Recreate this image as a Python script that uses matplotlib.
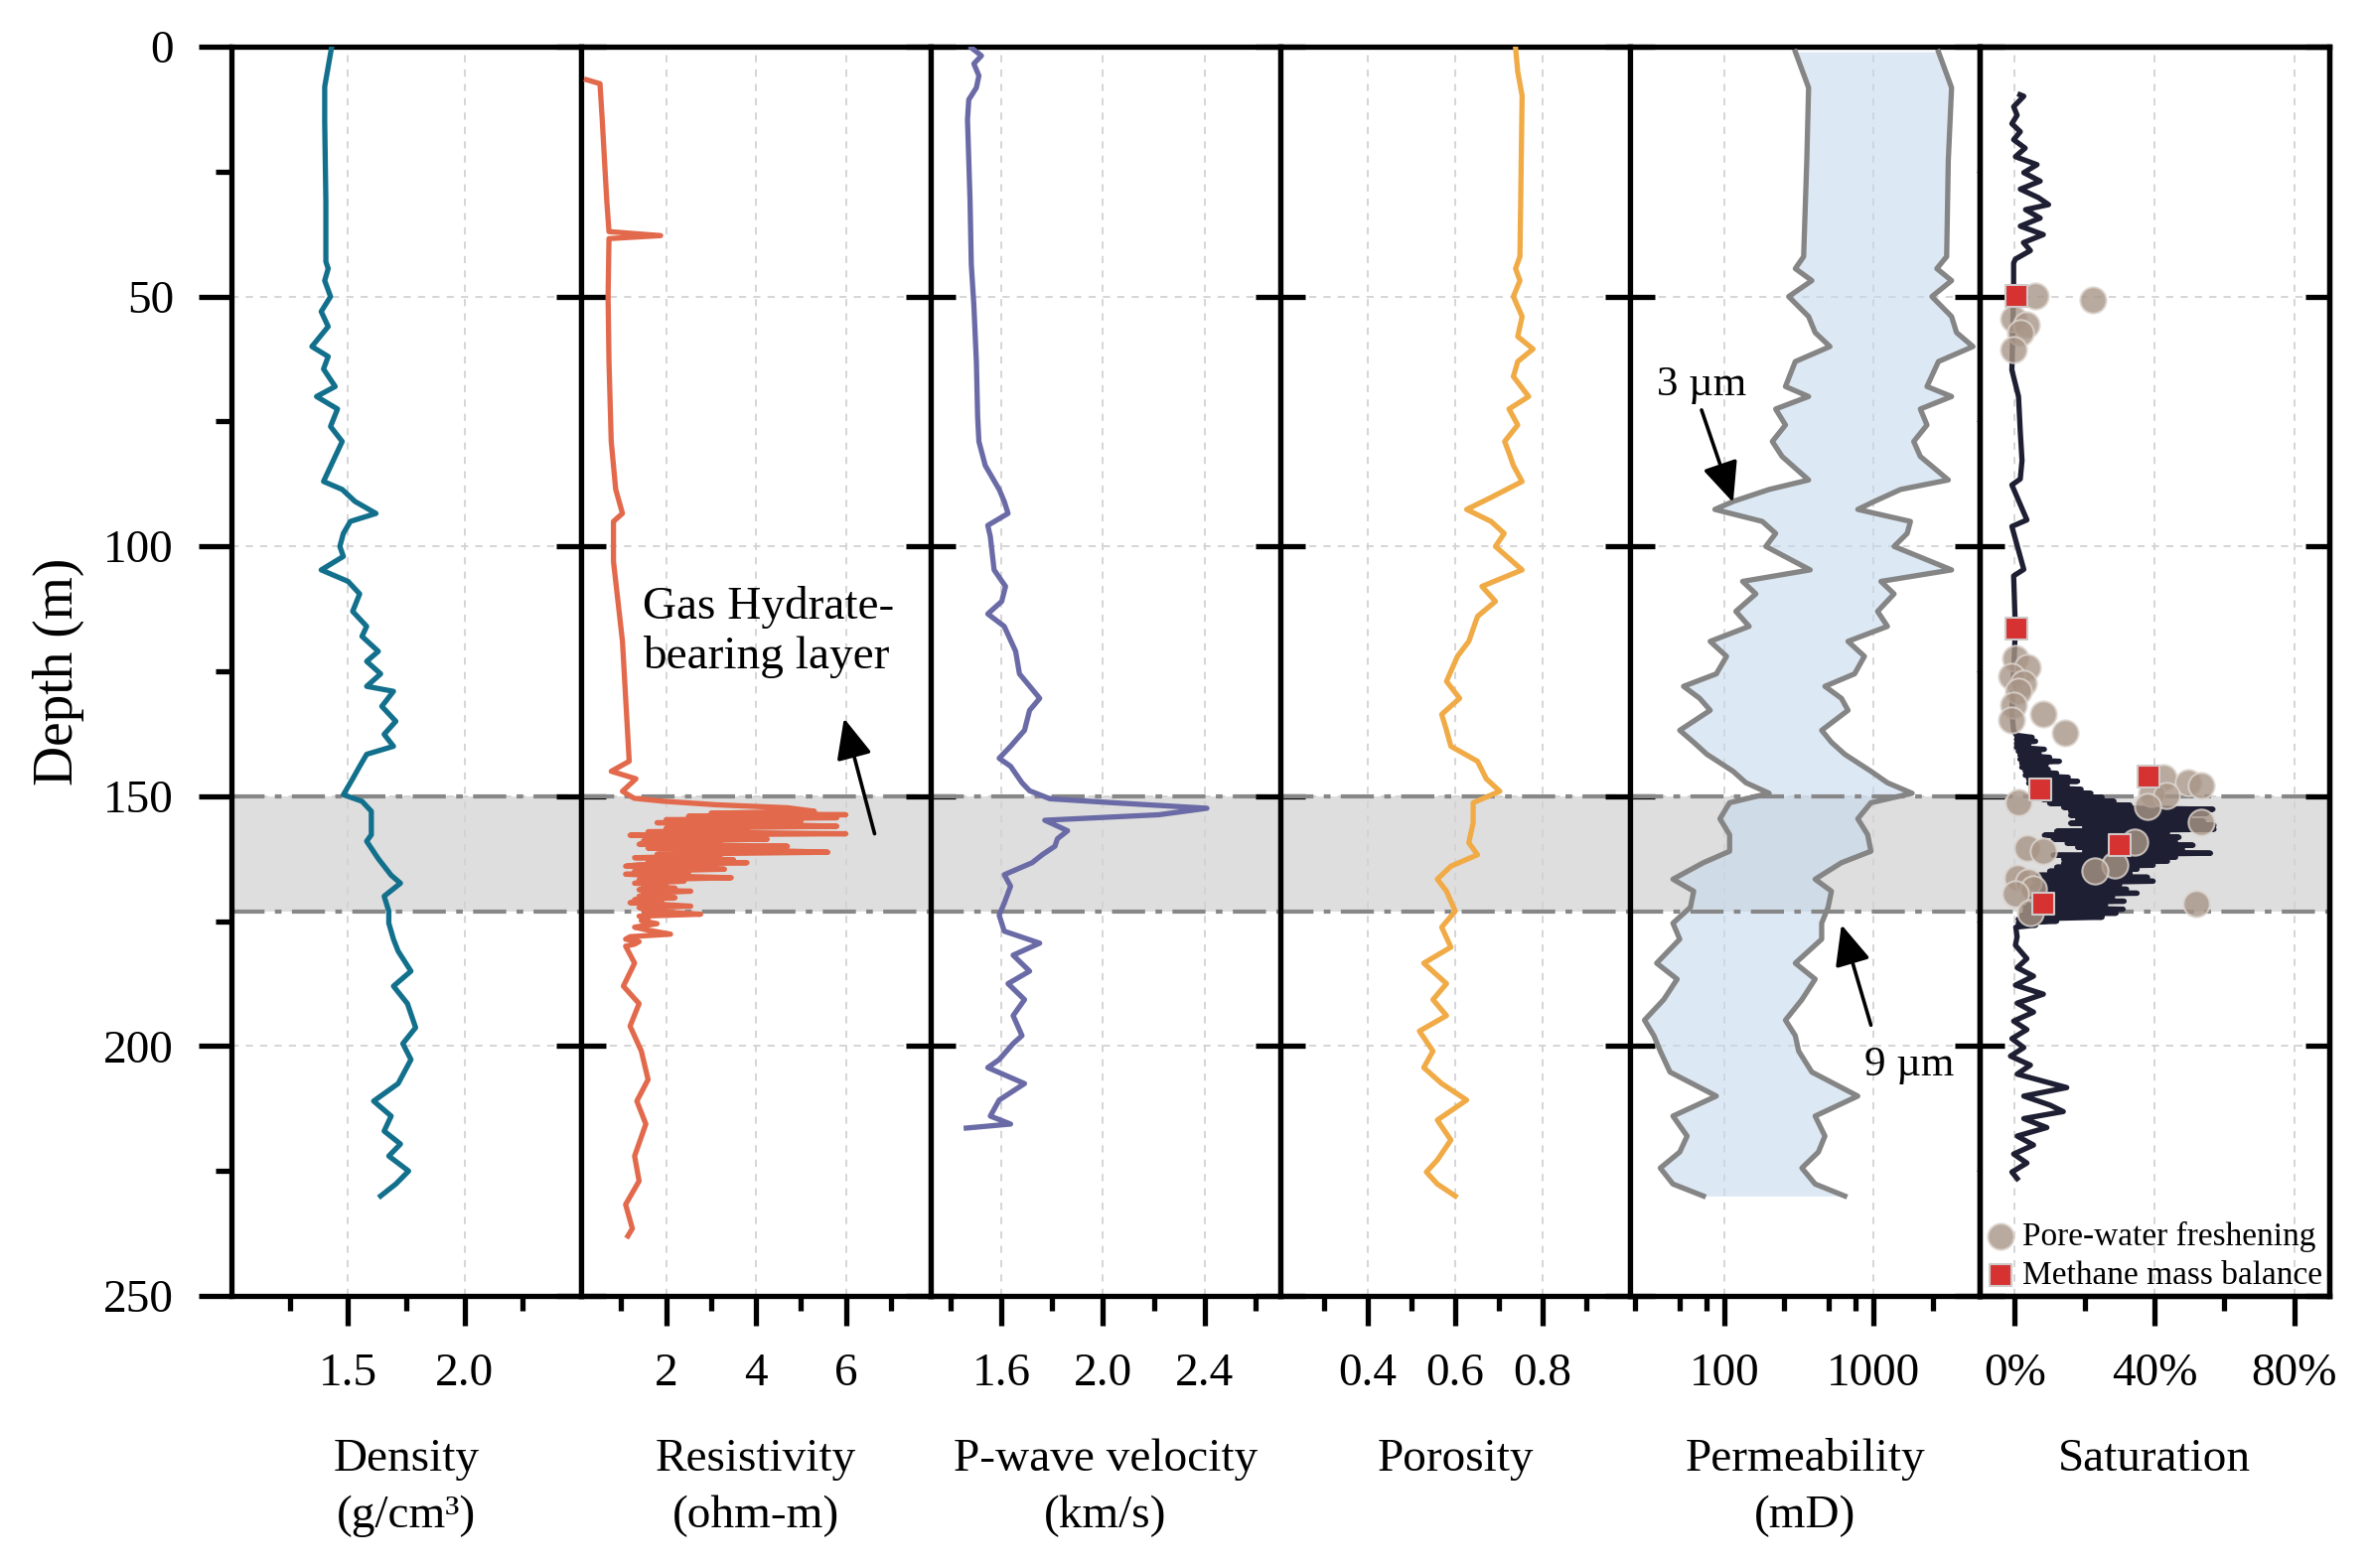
import matplotlib
matplotlib.use("Agg")
import matplotlib.pyplot as plt
import matplotlib.ticker as tck

# ---- data -------------------------------------------------------------------
density_depth = [0, 8, 15, 31, 43, 44.4, 46.8, 50, 53, 56, 60, 62, 64.5, 68, 70, 72.5, 76, 79, 82, 87,
                 88.6, 91, 93.4, 95, 97.4, 100, 102, 104.7, 107, 109.5, 113, 116, 118, 121, 123, 125.5,
                 128, 129, 132, 135, 137.6, 140, 141.6, 144, 146.5, 149.7, 151, 153, 157.7, 159, 162.5,
                 165.8, 167.4, 170, 173, 175.4, 178.6, 181, 185, 188, 191.5, 196.3, 199.5, 202.7, 207.5,
                 211, 214, 217, 219.6, 222, 225, 227.6, 230]
density = [1.43, 1.40, 1.40, 1.405, 1.405, 1.415, 1.40, 1.425, 1.385, 1.415, 1.345, 1.415, 1.395, 1.445,
           1.365, 1.455, 1.425, 1.475, 1.445, 1.395, 1.475, 1.53, 1.62, 1.51, 1.48, 1.465, 1.48, 1.385,
           1.50, 1.55, 1.52, 1.58, 1.56, 1.63, 1.58, 1.64, 1.58, 1.695, 1.645, 1.705, 1.655, 1.695, 1.58,
           1.55, 1.52, 1.48, 1.56, 1.60, 1.60, 1.58, 1.63, 1.685, 1.725, 1.655, 1.675, 1.675, 1.695,
           1.715, 1.77, 1.695, 1.755, 1.79, 1.735, 1.77, 1.715, 1.61, 1.685, 1.655, 1.725, 1.675, 1.76,
           1.705, 1.64]

res_depth = [6.6, 7.4, 14.6, 22.7, 30.7, 37, 37.8, 38.4, 50, 63, 79, 88.6, 93.4, 95, 103, 111, 119, 127,
             135, 143, 145, 146.5, 149, 150.4,
             151.0, 151.7, 152.3, 153.0, 153.4, 153.7, 154.0, 154.3, 154.7, 155.0, 155.3, 155.7, 156.0,
             156.4, 156.7, 157.1, 157.5, 157.8, 158.2, 158.6, 158.9, 159.3, 159.6, 160.0, 160.4, 160.8,
             161.2, 161.6, 161.9, 162.3, 162.7, 163.0, 163.3, 163.7, 164.0, 164.3, 164.6, 165.0, 165.3,
             165.6, 166.0, 166.3, 166.7, 167.0, 167.4, 167.7, 168.0, 168.4, 168.7, 169.0, 169.4, 169.7,
             170.0, 170.3, 170.7, 171.0, 171.3, 171.7, 172.0, 172.3, 172.6, 172.9, 173.3, 173.6, 174.0,
             174.5, 174.9, 175.5, 176.2, 176.8, 177.6, 178.1, 178.6, 179.1, 179.6, 180.0,
             183.4, 188, 191.5, 196, 201, 206.7, 211, 215.6, 222, 227, 231.7, 236.5, 238]
resistivity = [0.23, 0.53, 0.58, 0.63, 0.68, 0.73, 1.88, 0.73, 0.71, 0.73, 0.78, 0.88, 1.03, 0.83, 0.83,
               0.93, 1.03, 1.08, 1.13, 1.18, 0.78, 1.33, 1.03, 1.29,
               1.95, 3.1, 4.7, 5.3, 3.0, 6.0, 2.5, 5.8, 2.0, 5.0, 1.8, 4.5, 5.8,
               2.0, 3.8, 1.6, 6.0, 1.2, 3.5, 4.25, 1.5, 3.2, 1.4, 4.7, 1.6, 4.0,
               5.6, 1.8, 3.2, 1.3, 3.5, 1.6, 3.8, 1.4, 1.1, 2.8, 3.3, 1.3, 2.5,
               1.1, 2.2, 3.45, 1.4, 2.4, 1.3, 2.0, 1.5, 2.2, 1.4, 2.55, 1.5, 1.9,
               1.4, 2.2, 1.3, 1.9, 1.2, 2.0, 2.55, 1.4, 1.6, 1.5, 2.2, 2.77, 1.4,
               1.6, 1.45, 1.8, 1.3, 1.6, 2.1, 1.2, 1.1, 1.4, 1.3, 1.1,
               1.3, 1.05, 1.4, 1.2, 1.45, 1.6, 1.35, 1.55, 1.3, 1.4, 1.1, 1.25, 1.15]

vp_depth = [0.2, 1.8, 3.4, 5.8, 8.2, 10.6, 14.6, 30.7, 43.6, 51.6, 63, 74, 79, 83.8, 88.6, 91, 93.4, 95.8,
            98, 104.7, 108, 111, 113.5, 116, 121, 125.5, 130.4, 132.8, 136.8, 140, 142.4, 144, 147.3,
            148.9, 150.5, 151.3, 152.4, 153.7, 154.8, 156.9, 158.5, 160, 161.7, 163.3, 165.7, 168, 171.4,
            173.8, 177, 179.4, 181.8, 185, 187.5, 190.7, 193.9, 197.9, 199.5, 202.7, 204.3, 207.5, 210.8,
            214, 215.6, 216.4]
vp = [1.48, 1.52, 1.49, 1.51, 1.50, 1.47, 1.465, 1.475, 1.48, 1.49, 1.50, 1.505, 1.51, 1.535, 1.59, 1.61,
      1.625, 1.545, 1.555, 1.57, 1.615, 1.60, 1.545, 1.61, 1.655, 1.67, 1.75, 1.71, 1.69, 1.635, 1.59,
      1.635, 1.68, 1.71, 1.79, 2.04, 2.41, 2.22, 1.77, 1.86, 1.82, 1.81, 1.76, 1.72, 1.61, 1.635, 1.61,
      1.59, 1.61, 1.75, 1.645, 1.71, 1.625, 1.69, 1.645, 1.68, 1.645, 1.59, 1.545, 1.69, 1.59, 1.555,
      1.635, 1.46]

por_depth = [0.2, 5, 9.8, 22.7, 42, 44.4, 46.8, 50, 54, 58, 60.5, 63, 66, 70, 72.5, 75.7, 79, 81.3, 83.8,
             87, 90.2, 92.6, 95, 97.4, 100, 104.7, 108, 111, 114, 119, 122, 127, 130.4, 133.6, 136.8, 140,
             143, 146.5, 149, 151.3, 155.3, 159.3, 161.7, 164, 166.6, 169, 173, 176.2, 180.2, 183.4,
             187.5, 190.7, 193.9, 197, 201, 204.3, 207.5, 210.8, 214.8, 218.8, 222.8, 225.2, 227.6, 230]
porosity = [0.738, 0.743, 0.753, 0.751, 0.748, 0.738, 0.748, 0.733, 0.753, 0.743, 0.778, 0.743, 0.733,
            0.768, 0.723, 0.743, 0.713, 0.723, 0.733, 0.753, 0.682, 0.626, 0.682, 0.712, 0.692, 0.753,
            0.661, 0.692, 0.651, 0.631, 0.605, 0.580, 0.610, 0.569, 0.580, 0.590, 0.651, 0.671, 0.702,
            0.641, 0.641, 0.631, 0.651, 0.590, 0.559, 0.580, 0.600, 0.569, 0.590, 0.528, 0.580, 0.549,
            0.580, 0.518, 0.549, 0.528, 0.569, 0.626, 0.559, 0.590, 0.559, 0.534, 0.559, 0.600]

perm_depth = [1, 8.2, 22.7, 42, 44.4, 46.8, 50, 54, 57.2, 60, 63, 68, 70, 72.5, 75.7, 79, 82, 86.7, 88.6,
              91, 92.6, 95, 97.4, 100, 104.7, 107, 109.5, 113, 116, 119, 122, 125.5, 128, 130.4, 132.8,
              136.8, 139.2, 141.6, 145, 147.3, 149.4, 151.3, 154.5, 157.7, 161, 163.3, 166.6, 169, 172.2,
              175.4, 178.6, 183.4, 186.6, 190.7, 194.8, 197.9, 201, 205.2, 210, 214, 218, 221.2, 224.4,
              227.6, 230]
perm_3um = [298, 366, 356, 339, 298, 385, 269, 366, 405, 509, 298, 256, 366, 220, 256, 209, 243, 366, 199,
            114, 86, 179, 220, 189, 375, 132, 162, 119, 146, 80, 103, 88, 53, 68, 80, 50, 62, 76, 114,
            139, 199, 108, 93, 108, 108, 72, 45, 62, 59, 45, 50, 35, 48, 39, 29, 33.5, 37, 43, 88, 45,
            56, 50, 37, 45, 72]
perm_9um = [2723, 3335, 3170, 3090, 2655, 3335, 2460, 3335, 3600, 4640, 2723, 2280, 3335, 2057, 2280,
            1858, 2057, 3170, 1517, 1010, 783, 1766, 1679, 1371, 3335, 1119, 1371, 1063, 1238, 673, 867,
            745, 471, 608, 673, 448, 521, 640, 959, 1238, 1812, 959, 783, 912, 959, 608, 405, 521, 495,
            448, 448, 298, 405, 330, 256, 298, 314, 385, 783, 405, 471, 426, 330, 405, 640]

sat_depth = [9.6, 9.9, 12, 13.7, 15.4, 17, 18.6, 20.3, 22, 23.6, 25.2, 26.9, 28.5, 30.2, 31.6, 32.6, 34.3,
             35.9, 37.6, 39.2, 40.8, 42.5, 43.3, 48.3, 64.7, 70, 77, 82.8, 86.5, 87.7, 94.7, 96, 104.6,
             105.9, 116.5, 133.4, 136.9,
             137.8, 138.2, 138.6, 139.0, 139.4, 139.8, 140.2, 140.6, 141.0, 141.4, 141.8, 142.2, 142.6,
             143.0, 143.4, 143.8, 144.2, 144.6, 145.0, 145.4, 145.8, 146.2, 146.6, 147.0, 147.4, 147.8,
             148.2, 148.6, 149.0, 149.4, 149.8, 150.2, 150.6, 151.0, 151.4, 151.8, 152.2, 152.6, 153.0,
             153.4, 153.8, 154.2, 154.6, 155.0, 155.4, 155.8, 156.2, 156.6, 157.0, 157.4, 157.8, 158.2,
             158.6, 159.0, 159.4, 159.8, 160.2, 160.6, 161.0, 161.4, 161.8, 162.2, 162.6, 163.0, 163.4,
             163.8, 164.2, 164.6, 165.0, 165.4, 165.8, 166.2, 166.6, 167.0, 167.4, 167.8, 168.2, 168.6,
             169.0, 169.4, 169.8, 170.2, 170.6, 171.0, 171.4, 171.8, 172.2, 172.6, 173.0, 173.4, 173.8,
             174.2, 174.6, 175.0, 175.4, 175.8, 176.2,
             178.1, 179.8, 182.5, 184.3, 186, 187.8, 189.6, 191.4, 193.2, 195, 196.7, 198.5, 200.3, 202,
             203.8, 205.6, 208.3, 210, 211.8, 213.1, 214.5, 216.3, 218, 219.8, 221.6, 223.4, 225.2, 226.5]
saturation = [1.5, 2.6, -0.3, 0.7, -0.8, 1.6, -0.3, 3.0, 0.2, 6.4, 2.6, 7.3, 1.6, 6.8, 9.7, 3.1, 7.3, 1.6,
              8.2, 2.5, 4.5, 0.2, -0.3, -0.3, -0.8, 1.1, 1.6, 2.1, 1.6, -0.8, 3.5, -0.8, 2.6, -0.3, 0.2,
              -0.8, -0.3,
              0.5, 5, 0.5, 6, 0.5, 4, 0.5, 8.5, 1, 7, 1.5, 10, 1.5,
              12.8, 2, 9, 2, 9.6, 3, 12, 3, 15.3, 4, 18, 4, 15,
              5, 19, 6, 21.8, 7, 25, 8, 28.4, 10, 33, 14, 56.7, 16,
              55, 16, 50, 18, 54, 16, 57, 20, 57, 12, 43.7, 8.5, 47,
              11, 46, 15, 51, 18, 48, 20, 56, 11, 46, 14, 43.7, 14,
              39.6, 12, 35, 10, 33, 7, 38, 5, 39.6, 6, 30, 5, 32,
              6, 35, 5, 28, 4, 31.3, 4, 26, 3, 31, 3, 29, 2,
              25, 1, 12, 1, 6, 0.3,
              0.7, 0.2, 3.5, 0.7, 5.4, 0.2, 8.2, 0.7, 5.4, -0.3, 3.5, -0.8, 2.6, -1.2,
              4.5, 0.7, 14.9, 2.6, 10.1, 13.9, 2.6, 9.2, 0.7, 5.4, -0.3, 3.5, -0.8, 0.7]

fresh_depth = [49.9, 50.6, 54.4, 55.7, 57.3, 60.6, 122.4, 124.2, 126, 127.3, 129.0, 131.7, 133.5, 134.8,
               137.4, 146.3, 147.2, 147.9, 149.4, 149.9, 151.2, 152.1, 155.2, 159.2, 160.4, 161.0, 163.7,
               165.0, 166.3, 167.2, 168.6, 169.6, 171.4, 173.2]
fresh_sat = [5.9, 22.3, -0.3, 3.3, 1.6, -0.3, 0.2, 3.5, -0.8, 2.6, 1.1, -0.3, 8.2, -0.8, 14.4, 42.4, 49.5,
             53.3, 39.0, 43.3, 1.1, 38.1, 53.3, 34.3, 3.5, 8.2, 28.6, 22.9, 0.7, 4.0, 5.4, 0.2, 51.9, 4.5]

mmb_depth = [49.9, 116.5, 146.1, 148.7, 159.7, 171.4]
mmb_sat = [0.5, 0.5, 38.3, 7.4, 30.1, 8.2]

layer_top, layer_bottom = 150, 173

labels = ['Density\n(g/cm³)', 'Resistivity\n(ohm-m)', 'P-wave velocity\n(km/s)', 'Porosity',
          'Permeability\n(mD)', 'Saturation']
xlims = [(1.0, 2.5), (0.11, 7.89), (1.32, 2.70), (0.2, 1.0), (23.2, 5150), (-10, 90)]
major_ticks = [[1.5, 2.0], [2, 4, 6], [1.6, 2.0, 2.4], [0.4, 0.6, 0.8], [100, 1000], [0, 40, 80]]
tick_labels = [['1.5', '2.0'], ['2', '4', '6'], ['1.6', '2.0', '2.4'], ['0.4', '0.6', '0.8'],
               ['100', '1000'], ['0%', '40%', '80%']]
minor_ticks = [[1.25, 1.75, 2.25], [1, 3, 5, 7], [1.4, 1.8, 2.2, 2.6], [0.3, 0.5, 0.7, 0.9],
               [25, 50, 75, 250, 500, 750, 2500], [20, 60]]

# ---- figure -----------------------------------------------------------------
plt.rcParams['font.family'] = ['Liberation Serif', 'DejaVu Serif']
plt.rcParams['font.size'] = 34
plt.rcParams['axes.linewidth'] = 3.8

fig, axes = plt.subplots(1, 6, sharey=True, figsize=(23.9, 15.79), dpi=100)
fig.subplots_adjust(left=0.0975, right=0.9812, bottom=0.1735, top=0.9702, wspace=0)

lw = 3.8
axes[0].plot(density, density_depth, color='#12708c', lw=lw, zorder=3)
axes[1].plot(resistivity, res_depth, color='#e2694b', lw=lw, zorder=3)
axes[2].plot(vp, vp_depth, color='#6a6ba6', lw=lw, zorder=3)
axes[3].plot(porosity, por_depth, color='#f0ab47', lw=lw, zorder=3)

ax_k = axes[4]
ax_k.set_xscale('log')
ax_k.fill_betweenx(perm_depth, perm_3um, perm_9um, color='#c5daee', alpha=0.6, lw=0, zorder=1.5)
ax_k.plot(perm_3um, perm_depth, color='#858585', lw=lw, zorder=3)
ax_k.plot(perm_9um, perm_depth, color='#858585', lw=lw, zorder=3)

ax_s = axes[5]
ax_s.plot(saturation, sat_depth, color='#1f1f33', lw=lw, zorder=3)
ax_s.scatter(fresh_sat, fresh_depth, s=360, marker='o', color='#a89587', alpha=0.8,
             edgecolors='#ddd6d0', linewidths=1.5, zorder=4, label='Pore-water freshening')
ax_s.scatter(mmb_sat, mmb_depth, s=230, marker='s', color='#d63232', edgecolors='#cfc8c8',
             linewidths=1.5, zorder=5, label='Methane mass balance')
ax_s.legend(loc='lower left', bbox_to_anchor=(-0.025, -0.004), frameon=False, fontsize=24,
            handletextpad=0.05, borderaxespad=0.1, labelspacing=0.25, handlelength=1.2,
            borderpad=0.2)

for i, ax in enumerate(axes):
    ax.axhspan(layer_top, layer_bottom, color='#dedede', lw=0, zorder=0.2)
    for d in (layer_top, layer_bottom):
        ax.axhline(d, color='#878787', lw=3.0, ls=(0, (8, 2.5, 1.6, 2.5)), zorder=2)
    ax.set_axisbelow(True)
    ax.grid(True, which='major', color='#d2d2d2', ls=(0, (4, 4)), lw=1.3)
    ax.set_xlim(*xlims[i])
    ax.set_xticks(major_ticks[i], tick_labels[i])
    ax.set_xticks(minor_ticks[i], minor=True)
    ax.xaxis.set_minor_formatter(tck.NullFormatter())
    ax.tick_params(axis='x', which='major', direction='out', length=21.6, width=3.8, pad=20,
                   labelsize=34, top=False)
    ax.tick_params(axis='x', which='minor', direction='out', length=10.8, width=3.8, top=False)
    ax.set_xlabel(labels[i], labelpad=31, fontsize=34, va='top', linespacing=1.45)
    if i == 0:
        ax.tick_params(axis='y', which='major', direction='out', length=23.8, width=3.8, pad=18,
                       labelsize=34, left=True, right=False)
        ax.tick_params(axis='y', which='minor', direction='out', length=11.5, width=3.8,
                       left=True, right=False)
    else:
        ax.tick_params(axis='y', which='major', direction='inout', length=36, width=3.8,
                       left=True, right=False, labelleft=False)
        ax.tick_params(axis='y', which='minor', left=False, right=False)

axes[0].set_ylim(250, 0)
axes[0].yaxis.set_major_locator(tck.MultipleLocator(50))
axes[0].yaxis.set_minor_locator(tck.MultipleLocator(25))
axes[0].set_ylabel('Depth (m)', fontsize=40, labelpad=14)

# right-hand ticks of the last track
ax_r = ax_s.twinx()
ax_r.set_ylim(250, 0)
ax_r.yaxis.set_major_locator(tck.MultipleLocator(50))
ax_r.tick_params(axis='y', which='major', direction='in', length=17, width=3.8, labelright=False)
ax_r.tick_params(axis='y', which='minor', right=False)

arrow = dict(arrowstyle='-|>,head_length=0.45,head_width=0.2', color='black', lw=2.6,
             mutation_scale=55, shrinkA=0, shrinkB=0)
axes[1].text(1.49, 117.2, 'Gas Hydrate-\nbearing layer', ha='left', va='center', fontsize=34,
             zorder=6)
axes[1].annotate('', xy=(5.96, 134.4), xytext=(6.64, 157.5), arrowprops=arrow, zorder=6)
ax_k.text(70, 67.8, '3 µm', ha='center', va='center', fontsize=31, zorder=6)
ax_k.annotate('', xy=(114, 91.2), xytext=(70, 72.7), arrowprops=arrow, zorder=6)
ax_k.text(1730, 203.8, '9 µm', ha='center', va='center', fontsize=31, zorder=6)
ax_k.annotate('', xy=(608, 175.7), xytext=(959, 195.8), arrowprops=arrow, zorder=6)

plt.savefig('out.png', dpi=100)
